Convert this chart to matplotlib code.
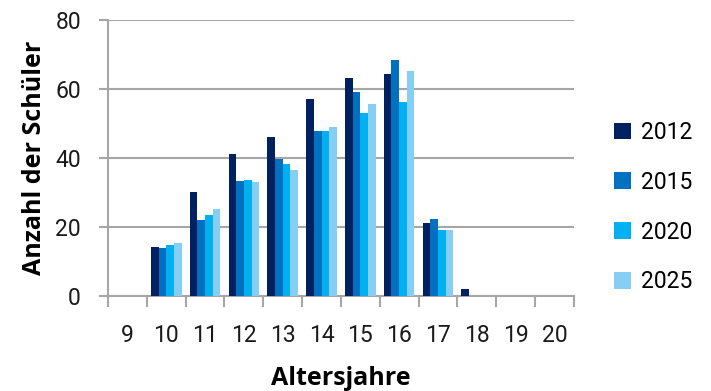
import numpy as np
import matplotlib.pyplot as plt

# Altersjahre (categories) and Anzahl der Schüler per year
ages = ["9", "10", "11", "12", "13", "14", "15", "16", "17", "18", "19", "20"]
years = ["2012", "2015", "2020", "2025"]
v2012 = [0, 14.1, 30.1, 41.2, 46.2, 57.2, 63.1, 64.2, 21.1, 2.0, 0, 0]
v2015 = [0, 14.0, 22.1, 33.3, 39.8, 47.7, 59.0, 68.3, 22.3, 0, 0, 0]
v2020 = [0, 14.7, 23.6, 33.7, 38.3, 47.7, 52.9, 56.3, 19.1, 0, 0, 0]
v2025 = [0, 15.5, 25.3, 32.9, 36.6, 49.1, 55.7, 65.2, 19.1, 0, 0, 0]
colors = ["#002060", "#0070C0", "#00B0F0", "#87CEF5"]

plt.rcParams["font.family"] = ["Roboto", "DejaVu Sans"]

fig = plt.figure(figsize=(7.11, 3.91), dpi=100)
ax = fig.add_axes([0.152, 0.243, 0.655, 0.706])

x = np.arange(len(ages))
w = 0.197
series = [v2012, v2015, v2020, v2025]
for i, (vals, c, lab) in enumerate(zip(series, colors, years)):
    vals = np.array(vals)
    mask = vals > 0
    ax.bar(x[mask] + (i - 1.5) * w, vals[mask], width=w, color=c, label=lab, zorder=3)

ax.set_xlim(-0.5, len(ages) - 0.5)
ax.set_ylim(0, 80)
ax.set_yticks([0, 20, 40, 60, 80])
ax.yaxis.grid(True, color="#A6A6A6", linewidth=1.5, zorder=0)
ax.set_xticks(x)
ax.set_xticklabels(ages)
ax.set_xticks(np.arange(-0.5, len(ages)), minor=True)
ax.tick_params(axis="x", which="major", length=0, pad=20, labelsize=16.5, colors="#1a1a1a")
ax.tick_params(axis="x", which="minor", length=8, width=1.5, color="#A6A6A6")
ax.tick_params(axis="y", length=6.5, width=1.5, color="#A6A6A6", labelsize=16.5, pad=13, labelcolor="#1a1a1a")

for s in ["top", "right"]:
    ax.spines[s].set_visible(False)
for s in ["left", "bottom"]:
    ax.spines[s].set_color("#A6A6A6")
    ax.spines[s].set_linewidth(1.5)

ax.set_xlabel("Altersjahre", fontsize=18, fontweight="bold", family="Open Sans", labelpad=14)
ax.set_ylabel("Anzahl der Schüler", fontsize=18, fontweight="bold", family="Open Sans", labelpad=6)

ax.legend(loc="center left", bbox_to_anchor=(1.043, 0.322), frameon=False, fontsize=16.5,
          handlelength=0.74, handleheight=0.74, labelspacing=1.17, handletextpad=0.4)

fig.savefig("out.png", dpi=100)
